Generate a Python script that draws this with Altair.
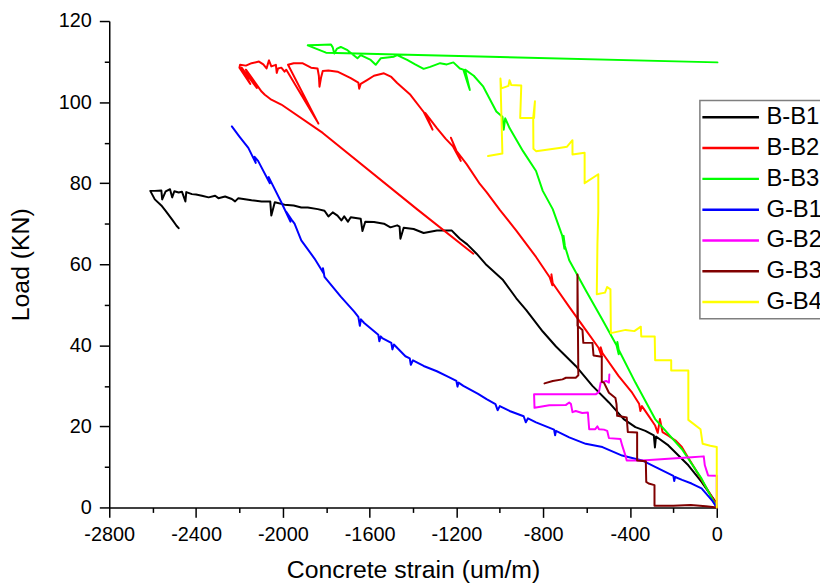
import altair as alt
import pandas as pd

SERIES = ["B-B1", "B-B2", "B-B3", "G-B1", "G-B2", "G-B3", "G-B4"]
COLORS = ["#000000", "#ff0000", "#00ff00", "#0000ff", "#ff00ff", "#800000", "#ffff00"]

B_B1 = [(0, 0), (-1, 1), (-70, 6.3), (-131, 10.4), (-223, 15.3), (-280, 17.5), (-285, 14.8), (-290, 17.8),
        (-329, 18.9), (-375, 19.8), (-429, 21.8), (-497, 25.9), (-573, 30), (-650, 34.9), (-741, 39.7),
        (-802, 43.4), (-878, 48.7), (-924, 51.6), (-985, 56.1), (-1061, 59.8), (-1107, 62.6), (-1150, 64.9),
        (-1184, 66.3), (-1199, 67.1), (-1221, 68.3), (-1290, 68.3), (-1351, 67.7), (-1397, 68.7), (-1443, 69),
        (-1458, 66.3), (-1462, 69.3), (-1473, 69.6), (-1504, 69.1), (-1534, 70), (-1580, 70.4), (-1620, 70.5),
        (-1633, 68.2), (-1641, 71.2), (-1687, 71.6), (-1700, 70.5), (-1717, 71.8), (-1730, 70.8), (-1748, 72),
        (-1770, 72.8), (-1790, 71.8), (-1808, 73.2), (-1839, 73.6), (-1885, 74), (-1915, 74), (-1950, 74.5),
        (-1992, 74.7), (-2037, 75.3), (-2053, 72), (-2058, 75.5), (-2098, 75.5), (-2144, 75.8), (-2205, 76.3),
        (-2220, 75.5), (-2235, 76.1), (-2266, 76.7), (-2297, 76.3), (-2312, 76.9), (-2342, 76.5), (-2373, 76.9),
        (-2400, 77.2), (-2419, 77.3), (-2445, 77.8), (-2449, 75.5), (-2465, 77.9), (-2480, 77.7), (-2500, 78),
        (-2510, 76.5), (-2520, 78.5), (-2540, 78), (-2556, 76), (-2560, 78.2), (-2590, 78.1), (-2611, 78.1),
        (-2590, 76), (-2560, 74.5), (-2541, 73.2), (-2510, 71), (-2490, 69.5), (-2480, 68.9)]

B_B2 = [(0, 0), (-9, 1.4), (-55, 5.5), (-101, 9.6), (-140, 13), (-161, 14.9), (-190, 16.5), (-223, 17.7),
        (-250, 18.6), (-262, 21.8), (-272, 18.4), (-284, 20.2), (-314, 22.6), (-345, 25), (-352, 23.8),
        (-358, 25.6), (-390, 28.3), (-452, 32.4), (-527, 38.1), (-535, 39.5), (-530, 37.2), (-545, 39.4),
        (-604, 43.8), (-680, 49.5), (-756, 55.3), (-762, 57.5), (-758, 54.8), (-770, 56.8), (-833, 61.8),
        (-924, 68.3), (-1000, 73.4), (-1061, 77.8), (-1092, 79.8), (-1153, 84.7), (-1200, 88), (-1225, 91.2),
        (-1180, 85.5), (-1215, 89), (-1250, 91), (-1290, 93.6), (-1343, 97.3), (-1310, 93.2), (-1350, 97.5),
        (-1412, 101.8), (-1473, 104.7), (-1500, 106.2), (-1534, 107.1), (-1580, 106.5), (-1610, 105.5),
        (-1641, 104.5), (-1648, 103.3), (-1652, 104.8), (-1687, 105.9), (-1748, 107.5), (-1790, 107.8),
        (-1816, 107.7), (-1824, 106), (-1831, 103.8), (-1834, 106.5), (-1840, 108.3), (-1870, 108.5),
        (-1910, 109.6), (-1950, 109.6), (-1976, 109.2), (-1836, 94.7), (-1842, 95.3), (-1984, 108),
        (-1992, 107.5), (-2007, 108.5), (-2022, 108.3), (-2028, 107.2), (-2032, 109.2), (-2053, 108.8),
        (-2064, 110.3), (-2075, 108.3), (-2090, 109.3), (-2110, 110), (-2144, 109.6), (-2170, 109),
        (-2197, 109.2), (-2200, 108.5), (-2150, 104.5), (-2190, 108.5), (-2120, 103.5), (-2170, 108),
        (-2098, 102.6), (-2083, 101.8), (-2053, 100.6), (-2007, 99.4), (-1816, 92.4), (-1382, 73.6),
        (-1122, 62.6)]

B_B3 = [(0, 0), (-70, 7.1), (-161, 14.4), (-284, 21.8), (-375, 30.8), (-452, 38.9), (-458, 40.8), (-452, 37.8),
        (-462, 40), (-527, 46.3), (-604, 53.6), (-680, 61), (-700, 64.5), (-706, 67), (-702, 63.8), (-712, 67),
        (-756, 73.6), (-802, 78.1), (-833, 83), (-893, 87.9), (-955, 93.6), (-975, 96), (-982, 93.2),
        (-988, 96.4), (-1016, 97.7), (-1076, 103.8), (-1120, 106.5), (-1160, 108), (-1138, 103), (-1142, 103.6),
        (-1168, 108), (-1184, 108.3), (-1214, 109.8), (-1244, 109.3), (-1275, 109.6), (-1321, 108.7),
        (-1351, 108.2), (-1390, 109.3), (-1427, 110.4), (-1473, 111.6), (-1488, 111.2), (-1549, 110.8),
        (-1572, 109.2), (-1595, 110.4), (-1641, 111.6), (-1656, 110.8), (-1702, 112.8), (-1733, 113.6),
        (-1750, 113.2), (-1763, 112), (-1770, 113.5), (-1778, 114.2), (-1840, 114.1), (-1885, 114),
        (-1801, 112.2), (3, 109.8)]

G_B1 = [(0, 0), (-20, 1.6), (-70, 4.7), (-116, 5.9), (-160, 6.8), (-192, 7.5), (-196, 6.5), (-200, 7.8),
        (-284, 10), (-344, 11.6), (-436, 12.8), (-527, 14.9), (-604, 15.7), (-680, 17.3), (-741, 18.9),
        (-745, 17.8), (-750, 19.2), (-833, 21), (-870, 22), (-880, 21), (-890, 22.5), (-955, 23.8),
        (-1000, 25), (-1010, 24), (-1020, 25.5), (-1061, 26.7), (-1100, 28), (-1168, 30), (-1190, 30.8),
        (-1195, 29.8), (-1200, 31.2), (-1244, 32.4), (-1290, 33.6), (-1351, 34.9), (-1400, 36.3),
        (-1410, 35.2), (-1415, 36.8), (-1435, 37.3), (-1488, 40.2), (-1495, 39), (-1500, 40.6), (-1542, 41.8),
        (-1549, 42.2), (-1555, 41), (-1560, 42.6), (-1625, 45.5), (-1640, 46.4), (-1645, 44.8), (-1652, 47),
        (-1671, 48.3), (-1733, 52), (-1808, 56.9), (-1815, 59), (-1810, 57.6), (-1854, 61.4), (-1915, 65.9),
        (-1946, 70), (-1960, 71), (-1985, 73), (-1965, 70.5), (-2007, 75.3), (-2053, 80.2), (-2065, 81.5),
        (-2060, 80), (-2114, 85.5), (-2130, 86.5), (-2125, 85), (-2159, 88.7), (-2200, 91.5), (-2235, 94)]

G_B2 = [(0, 0), (0, 7.8), (-40, 7.9), (-55, 10.4), (-60, 12.6), (-116, 12.4), (-223, 12), (-344, 11.6),
        (-415, 11.6), (-421, 12.8), (-436, 15.3), (-444, 16.9), (-497, 17.1), (-505, 18.9), (-520, 19.2),
        (-543, 19.3), (-550, 20), (-560, 19.3), (-588, 19.3), (-594, 23.4), (-620, 23.3), (-650, 23.8),
        (-665, 23.5), (-672, 25.5), (-680, 25.9), (-695, 25.3), (-772, 25.2), (-840, 24.6), (-842, 27.9),
        (-558, 27.9), (-543, 28.5), (-535, 30.8), (-510, 31.2), (-497, 30.8), (-495, 32.8)]

G_B3 = [(0, 0), (-50, 0.3), (-120, 0.6), (-200, 0.4), (-287, 0.4), (-287, 5.5), (-314, 5.9), (-325, 6.3),
        (-327, 11.4), (-367, 11.6), (-367, 18.5), (-410, 18.6), (-415, 22.2), (-459, 22.6), (-462, 25.5),
        (-467, 27), (-497, 28.3), (-520, 30.8), (-530, 31), (-530, 37.2), (-568, 37.5), (-573, 40.6),
        (-615, 40.6), (-619, 43.8), (-642, 44.8), (-642, 57.5), (-638, 32.6), (-650, 32), (-695, 32),
        (-711, 31.6), (-756, 31.2), (-794, 30.6)]

G_B4 = [(0, 0), (0, 14.9), (-30, 15.2), (-65, 15.7), (-75, 19.3), (-131, 21.6), (-131, 33.8), (-210, 33.8),
        (-210, 36.3), (-284, 36.3), (-286, 42.2), (-348, 42.2), (-350, 44.6), (-380, 43.5), (-420, 43.8),
        (-488, 43), (-490, 53.8), (-505, 54.4), (-515, 53), (-553, 52.6), (-550, 65), (-546, 73), (-546, 82.2),
        (-609, 80), (-609, 87.5), (-665, 87.1), (-665, 90.6), (-690, 89), (-726, 88.7), (-833, 87.9),
        (-845, 88.5), (-846, 96.1), (-838, 100.2), (-842, 96.1), (-906, 96.1), (-901, 104.1), (-947, 104.2),
        (-955, 105.4), (-960, 104), (-993, 103.4), (-997, 105.8), (-988, 87.3), (-1054, 86.7)]

DATA = [B_B1, B_B2, B_B3, G_B1, G_B2, G_B3, G_B4]

rows = []
for name, pts in zip(SERIES, DATA):
    for i, (x, y) in enumerate(pts):
        rows.append({"series": name, "i": i, "x": x, "y": y})
df = pd.DataFrame(rows)

X_TICKS = list(range(-2800, 1, 200))
Y_TICKS = list(range(0, 121, 10))
FONT = "Liberation Sans"

x_axis = alt.Axis(
    values=X_TICKS, grid=False, title="Concrete strain (um/m)", labelFlush=False,
    labelExpr="datum.value % 400 === 0 ? '' + datum.value : ''",
    tickSize={"condition": {"test": "datum.value % 400 === 0", "value": 10}, "value": 5},
    tickColor="black", tickWidth=1.5, domainColor="black", domainWidth=1.5,
    labelFont=FONT, labelFontSize=20, labelColor="black", labelPadding=7,
    titleFont=FONT, titleFontSize=25, titleFontWeight="normal", titleColor="black", titlePadding=14,
)
y_axis = alt.Axis(
    values=Y_TICKS, grid=False, title="Load (KN)", labelFlush=False,
    labelExpr="datum.value % 20 === 0 ? '' + datum.value : ''",
    tickSize={"condition": {"test": "datum.value % 20 === 0", "value": 10}, "value": 5},
    tickColor="black", tickWidth=1.5, domainColor="black", domainWidth=1.5,
    labelFont=FONT, labelFontSize=20, labelColor="black", labelPadding=8,
    titleFont=FONT, titleFontSize=25, titleFontWeight="normal", titleColor="black", titlePadding=25,
)

chart = alt.Chart(df).mark_line(strokeWidth=2, strokeJoin="round", strokeCap="round").encode(
    x=alt.X("x:Q", scale=alt.Scale(domain=[-2800, 0], nice=False, zero=False), axis=x_axis),
    y=alt.Y("y:Q", scale=alt.Scale(domain=[0, 120], nice=False, zero=False), axis=y_axis),
    color=alt.Color("series:N", scale=alt.Scale(domain=SERIES, range=COLORS),
                    legend=alt.Legend(title=None, orient="none", legendX=595, legendY=80,
                                      symbolType="M-2.9,0H8.5", symbolSize=100, symbolStrokeWidth=2.5,
                                      labelFont=FONT, labelFontSize=24, labelColor="black",
                                      labelOffset=38, rowPadding=7, padding=5,
                                      strokeColor="#7f7f7f", fillColor="white")),
    order=alt.Order("i:Q"),
).properties(
    width=612, height=490,
    padding={"left": 102, "top": 11, "right": 104, "bottom": 76},
    autosize=alt.AutoSizeParams(type="none"),
).configure_view(strokeWidth=0).configure_legend(strokeWidth=1.5)

chart.save("out.html", embed_options={"renderer": "svg", "actions": False})
